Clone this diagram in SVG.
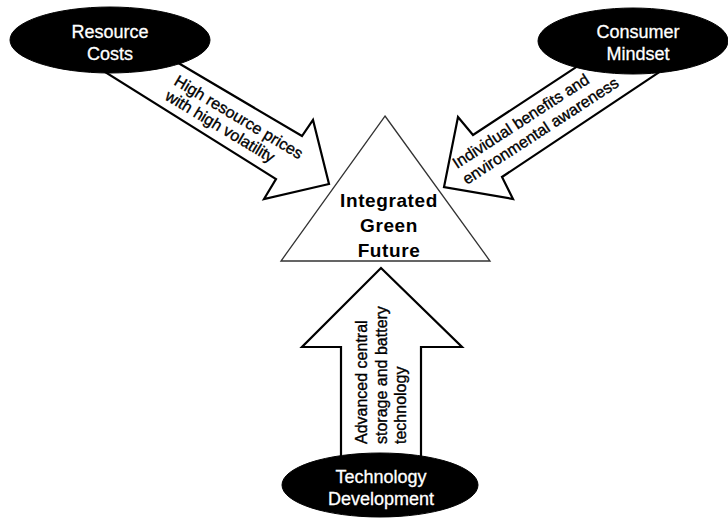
<svg xmlns="http://www.w3.org/2000/svg" width="728" height="518" viewBox="0 0 728 518">
<style>
  .arrow { fill: #ffffff; stroke: #000000; stroke-width: 2.2; stroke-linejoin: miter; }
  .oval { fill: #000000; stroke: #000000; stroke-width: 1; }
  .olabel { font-family: "Liberation Sans", Arial, sans-serif; font-size: 18px; fill: #ffffff; stroke: #ffffff; stroke-width: 0.3; text-anchor: middle; }
  .alabel { font-family: "Liberation Sans", Arial, sans-serif; font-size: 16px; fill: #000000; stroke: #000000; stroke-width: 0.35; }
  .vlabel { font-family: "Liberation Sans", Arial, sans-serif; font-size: 16px; fill: #000000; stroke: #000000; stroke-width: 0.35; }
  .center { font-family: "Liberation Sans", Arial, sans-serif; font-size: 19px; font-weight: bold; fill: #000000; text-anchor: middle; letter-spacing: 0.6px; }
</style>
<rect x="0" y="0" width="728" height="518" fill="#ffffff"/>

<g id="connectors">
  <g id="arrow-resource">
    <polygon class="arrow" points="169,57.5 302,136 313,120 329,184 264,199 276,179 97,67"/>
    <text class="alabel" transform="translate(173,84) rotate(31)">High resource prices</text>
    <text class="alabel" transform="translate(164,99) rotate(31)">with high volatility</text>
  </g>
  <g id="arrow-consumer">
    <polygon class="arrow" points="587.5,59.6 473,135 458,117 444,187 513,199 502,177 667.5,66.6"/>
    <text class="alabel" transform="translate(457,169) rotate(-33)">Individual benefits and</text>
    <text class="alabel" transform="translate(467,185) rotate(-33)">environmental awareness</text>
  </g>
  <g id="arrow-technology">
    <polygon class="arrow" points="381,268 462,347 421,347 421,470 341,470 341,347 302,347"/>
    <text class="vlabel" transform="translate(367,444) rotate(-90)">Advanced central</text>
    <text class="vlabel" transform="translate(387,444) rotate(-90)">storage and battery</text>
    <text class="vlabel" transform="translate(406,444) rotate(-90)">technology</text>
  </g>
</g>

<g id="node-green-future">
  <polygon points="385,116 490,261 281,261" fill="#ffffff" stroke="#333333" stroke-width="1.3"/>
  <text class="center" x="389" y="207">Integrated</text>
  <text class="center" x="389" y="232">Green</text>
  <text class="center" x="389" y="257">Future</text>
</g>

<g id="node-resource-costs">
  <ellipse class="oval" cx="110" cy="40" rx="100" ry="33"/>
  <text class="olabel" x="110" y="38">Resource</text>
  <text class="olabel" x="110" y="60">Costs</text>
</g>

<g id="node-consumer-mindset">
  <ellipse class="oval" cx="633" cy="41" rx="95" ry="33"/>
  <text class="olabel" x="638" y="38">Consumer</text>
  <text class="olabel" x="638" y="60">Mindset</text>
</g>

<g id="node-technology-development">
  <ellipse class="oval" cx="380" cy="485" rx="98" ry="32"/>
  <text class="olabel" x="381" y="483">Technology</text>
  <text class="olabel" x="381" y="505">Development</text>
</g>
</svg>
